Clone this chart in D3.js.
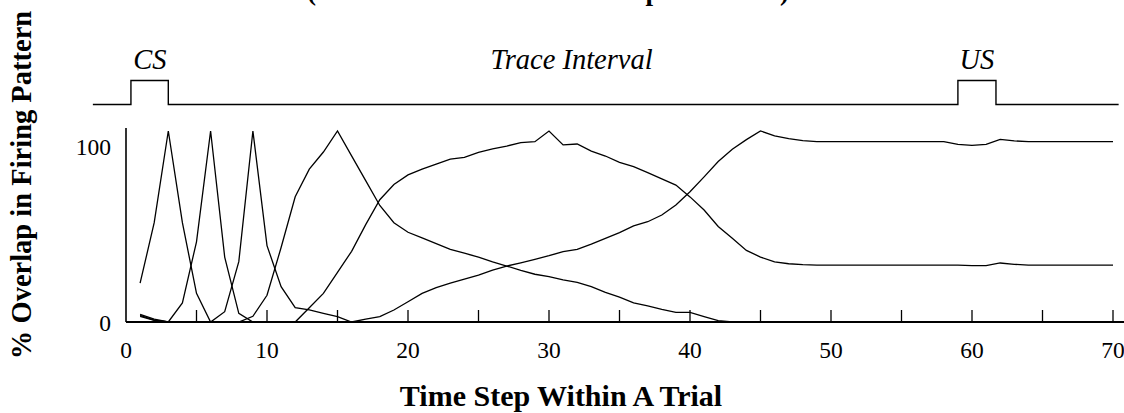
<!DOCTYPE html>
<html><head><meta charset="utf-8">
<script src="https://cdn.jsdelivr.net/npm/d3@7"></script>
<style>html,body{margin:0;padding:0;background:#fff;}svg{display:block;}</style>
</head><body>
<svg id="c" width="1124" height="413"></svg>
<script>
// ---- data ----
const timeSteps = d3.range(1, 71);
const z = n => Array(n).fill(0);
const seriesPeak3  = [20.3, 52, 100, 52, 15, 0].concat(z(64));
const seriesPeak6  = [4, 1.5, 0, 10, 42, 100, 34, 4.5, 0].concat(z(61));
const seriesPeak9  = [3.5, 1, 0, 0, 0, 0, 5.4, 31.6, 100, 40, 18.5, 7.5, 6.3, 4.5, 2.8, 0].concat(z(54));
const seriesPeak15 = [3, 0.8, 0, 0, 0, 0, 0, 0, 3, 14, 39, 65.6, 80, 89, 100, 87, 74, 61, 52, 47,
  44, 41, 38, 36, 34, 31.5, 29.3, 27, 25, 23.7, 22, 20.8, 18.5, 15.5, 13, 10, 8.4, 6.6, 5, 5,
  2.8, 0.7].concat(z(28));
const seriesPeak30 = [0, 0, 0, 0, 0, 0, 0, 0, 0, 0, 0, 0, 7.5, 15, 26, 37, 51, 64, 72, 77,
  80, 82.7, 85.3, 86.2, 88.8, 90.6, 92.1, 93.9, 94.4, 100, 92.7, 93.2, 89.5, 86.9, 83.6, 81.3, 78.2, 74.9, 71.7, 65.5,
  58.6, 50, 43.8, 37.5, 34, 31.5, 30.5, 30, 29.8, 29.8, 29.8, 29.8, 29.8, 29.8, 29.8, 29.8, 29.8, 29.8, 29.8, 29.5,
  29.5, 30.9, 30.2, 29.8, 29.8, 29.8, 29.8, 29.8, 29.8, 29.8];
const seriesPeak45 = [0, 0, 0, 0, 0, 0, 0, 0, 0, 0, 0, 0, 0, 0, 0, 0, 1.5, 2.8, 6.3, 10.6,
  15, 18, 20.4, 22.5, 24.6, 27.2, 29.3, 31, 32.8, 34.7, 36.8, 38, 40.8, 43.8, 46.8, 50.3, 52.5, 56, 61.3, 68.2,
  76, 84, 90.5, 95.5, 100, 97.5, 96, 95, 94.4, 94.4, 94.4, 94.4, 94.4, 94.4, 94.4, 94.4, 94.4, 94.4, 93, 92.5,
  93, 95.6, 94.8, 94.4, 94.4, 94.4, 94.4, 94.4, 94.4, 94.4];
const allSeries = [seriesPeak3, seriesPeak6, seriesPeak9, seriesPeak15, seriesPeak30, seriesPeak45];

const xTickLabels = [0, 10, 20, 30, 40, 50, 60, 70];
const xMinorTicks = [5, 10, 15, 20, 25, 30, 35, 40, 45, 50, 55, 60, 65, 70];
const yTickLabels = [0, 100];

// stimulus timeline (time-step units)
const timelineExtent = [-2.35, 70.4];
const csPulse = [0.35, 3.0];
const usPulse = [59.0, 61.7];
const stimLabels = [
  {text: "CS", t: 1.7},
  {text: "Trace Interval", t: 31.6},
  {text: "US", t: 60.35}
];

const titleText = "(Trace Interval = 57 Time Steps = 570 ms)";
const xTitle = "Time Step Within A Trial";
const yTitle = "% Overlap in Firing Pattern";

// ---- drawing ----
const svg = d3.select("#c");
const serif = "'Liberation Serif','DejaVu Serif',serif";

const x = d3.scaleLinear().domain([0, 70]).range([126, 1113]);
const y = d3.scaleLinear().domain([0, 100]).range([322, 131]);

// title (mostly cut off at top)
svg.append("text").attr("x", 548).attr("y", 0)
  .attr("text-anchor", "middle").attr("font-family", serif)
  .attr("font-weight", "bold").attr("font-size", 27).text(titleText);

// timeline
const tlBase = 104.5, tlTop = 80.5;
const tlPts = [
  [x(timelineExtent[0]), tlBase], [x(csPulse[0]), tlBase], [x(csPulse[0]), tlTop], [x(csPulse[1]), tlTop],
  [x(csPulse[1]), tlBase], [x(usPulse[0]), tlBase], [x(usPulse[0]), tlTop], [x(usPulse[1]), tlTop],
  [x(usPulse[1]), tlBase], [x(timelineExtent[1]), tlBase]
];
svg.append("path").attr("d", d3.line()(tlPts))
  .attr("fill", "none").attr("stroke", "#000").attr("stroke-width", 1.4);

svg.selectAll("text.stim").data(stimLabels).join("text")
  .attr("class", "stim")
  .attr("x", d => x(d.t)).attr("y", 69)
  .attr("text-anchor", "middle").attr("font-family", serif)
  .attr("font-style", "italic").attr("font-size", 28.5).text(d => d.text);

// axes
const g = svg.append("g");
g.append("line").attr("x1", x(0)).attr("x2", 1124).attr("y1", y(0)).attr("y2", y(0))
  .attr("stroke", "#000").attr("stroke-width", 2);
g.append("line").attr("x1", x(0)).attr("x2", x(0)).attr("y1", y(0)).attr("y2", 128)
  .attr("stroke", "#000").attr("stroke-width", 1.6);
g.selectAll("line.tick").data(xMinorTicks).join("line").attr("class", "tick")
  .attr("x1", d => x(d)).attr("x2", d => x(d)).attr("y1", y(0)).attr("y2", y(0) - 12)
  .attr("stroke", "#000").attr("stroke-width", 1.3);

g.selectAll("text.xl").data(xTickLabels).join("text").attr("class", "xl")
  .attr("x", d => x(d)).attr("y", 358).attr("text-anchor", "middle")
  .attr("font-family", serif).attr("font-size", 23.5).text(d => d);

g.selectAll("text.yl").data(yTickLabels).join("text").attr("class", "yl")
  .attr("x", 111).attr("y", d => d === 0 ? y(d) + 9 : y(d) + 24).attr("text-anchor", "end")
  .attr("font-family", serif).attr("font-size", 23.5).text(d => d);

// curves
const line = d3.line().x((d, i) => x(timeSteps[i])).y(d => y(d));
svg.selectAll("path.curve").data(allSeries).join("path").attr("class", "curve")
  .attr("d", line).attr("fill", "none").attr("stroke", "#000").attr("stroke-width", 1.3)
  .attr("stroke-linejoin", "miter");

// titles
svg.append("text").attr("x", 561).attr("y", 406).attr("text-anchor", "middle")
  .attr("font-family", serif).attr("font-weight", "bold").attr("font-size", 30).text(xTitle);
svg.append("text").attr("transform", "translate(31,185) rotate(-90)").attr("text-anchor", "middle")
  .attr("font-family", serif).attr("font-weight", "bold").attr("font-size", 28.5).text(yTitle);
</script>
</body></html>
